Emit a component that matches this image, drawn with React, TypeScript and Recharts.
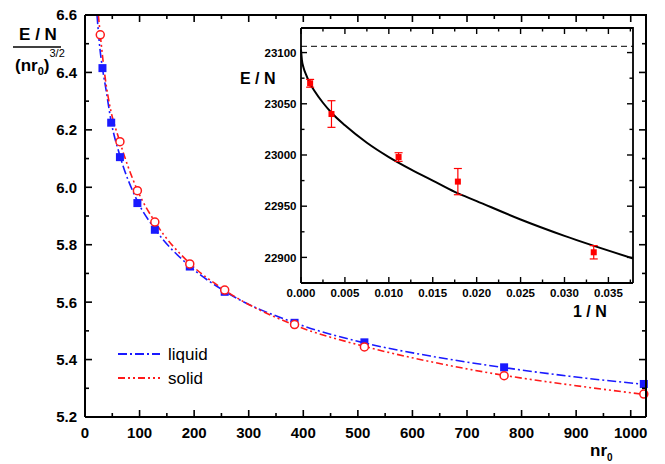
import { ComposedChart, Line, Scatter, XAxis, YAxis, ReferenceLine, ErrorBar } from 'recharts';

const FONT = '"Liberation Sans", Arial, Helvetica, sans-serif';
const BLUE = '#1a1aff';
const RED = '#ff1a1a';

// main panel: E/N/(nr0)^3/2 vs nr0
const liquidN = [32, 48, 64, 96, 128, 192, 256, 384, 512, 768, 1024];
const liquidE = [6.415, 6.225, 6.105, 5.945, 5.852, 5.724, 5.636, 5.528, 5.46, 5.373, 5.315];
const solidN = [28, 64, 96, 128, 192, 256, 384, 512, 768, 1024];
const solidE = [6.531, 6.159, 5.988, 5.879, 5.733, 5.642, 5.522, 5.444, 5.344, 5.28];

// fitted curves
const liquidFitN = [22, 27.5, 32, 38.5, 48, 64, 96, 128, 192, 256, 384, 512, 640, 768, 896, 1028];
const liquidFitE = [6.6, 6.48, 6.415, 6.34, 6.228, 6.11, 5.952, 5.855, 5.725, 5.638, 5.528, 5.458, 5.41, 5.372, 5.34, 5.313];
const solidFitN = [24.5, 28, 38.5, 44.5, 64, 96, 128, 192, 256, 384, 512, 640, 768, 896, 1028];
const solidFitE = [6.6, 6.531, 6.36, 6.293, 6.158, 5.99, 5.88, 5.735, 5.642, 5.52, 5.446, 5.39, 5.345, 5.31, 5.278];

const xTicks = [0, 50, 100, 150, 200, 250, 300, 350, 400, 450, 500, 550, 600, 650, 700, 750, 800, 850, 900, 950, 1000];
const yTicks = [5.2, 5.3, 5.4, 5.5, 5.6, 5.7, 5.8, 5.9, 6.0, 6.1, 6.2, 6.3, 6.4, 6.5, 6.6];
const yLabels = ['5.2', '5.4', '5.6', '5.8', '6.0', '6.2', '6.4', '6.6'];

// inset: E/N vs 1/N
const invN = [0.00104, 0.00347, 0.01111, 0.01786, 0.03333];
const energy = [23070, 23040, 22998, 22974, 22905];
const energyErr = [3.8, 13, 4.2, 12.8, 6.5];
const fitInvN = [0, 0.0001, 0.0003, 0.0006, 0.001, 0.0015, 0.0025, 0.0035, 0.005, 0.0075, 0.01, 0.0125, 0.015, 0.0175, 0.02, 0.025, 0.03, 0.0378];
const fitEnergy = [23103, 23093, 23085, 23078, 23070, 23063, 23051, 23041, 23029, 23012, 22998, 22986, 22975, 22964, 22955, 22937, 22921, 22899];
const bulkLimit = 23106;
const insetXTicks = [0, 0.0025, 0.005, 0.0075, 0.01, 0.0125, 0.015, 0.0175, 0.02, 0.0225, 0.025, 0.0275, 0.03, 0.0325, 0.035, 0.0375];
const insetYTicks = [22875, 22900, 22925, 22950, 22975, 23000, 23025, 23050, 23075, 23100];

const MAIN_X: [number, number] = [0, 1028];
const MAIN_Y: [number, number] = [5.2, 6.6];
const INSET_X: [number, number] = [0, 0.0378];
const INSET_Y: [number, number] = [22875, 23124];

// plot boxes (px) that the chart margins below produce
const MAIN_BOX = { left: 85, right: 646, top: 15, bottom: 417 };
const INSET_BOX = { left: 301, right: 633, top: 28, bottom: 283 };

const liquidData = liquidN.map((x, i) => ({ x, v: liquidE[i] }));
const solidData = solidN.map((x, i) => ({ x, v: solidE[i] }));
const liquidFit = liquidFitN.map((x, i) => ({ x, v: liquidFitE[i] }));
const solidFit = solidFitN.map((x, i) => ({ x, v: solidFitE[i] }));
const insetData = invN.map((x, i) => ({ x, v: energy[i], err: energyErr[i] }));
const insetFit = fitInvN.map((x, i) => ({ x, v: fitEnergy[i] }));

const near = (a: number, b: number) => Math.abs(a - b) < 1e-9;

const mainXLabel = (v: number) => (v % 100 === 0 ? String(v) : null);
const mainYLabel = (v: number) => yLabels.find((s) => near(parseFloat(s), v)) ?? null;
const insetXLabel = (v: number) => (Math.round(v * 10000) % 50 === 0 ? v.toFixed(3) : null);
const insetYLabel = (v: number) => (v % 50 === 0 ? String(v) : null);

const bottomLabel = (label: (v: number) => string | null, fs: number, gap: number) => (props: any) => {
  const lab = label(props.payload.value);
  if (!lab) return <g />;
  return (
    <text x={props.x} y={Number(props.y) + gap} dy="0.72em" textAnchor="middle" fontFamily={FONT} fontWeight="bold" fontSize={fs} fill="#000">
      {lab}
    </text>
  );
};

const leftLabel = (label: (v: number) => string | null, fs: number, gap: number) => (props: any) => {
  const lab = label(props.payload.value);
  if (!lab) return <g />;
  return (
    <text x={Number(props.x) - gap} y={props.y} dy="0.36em" textAnchor="end" fontFamily={FONT} fontWeight="bold" fontSize={fs} fill="#000">
      {lab}
    </text>
  );
};

// inward ticks on all four sides plus the top/right frame
function Frame(p: {
  box: { left: number; right: number; top: number; bottom: number };
  xd: [number, number]; yd: [number, number];
  xt: number[]; yt: number[];
  xMajor: (v: number) => boolean; yMajor: (v: number) => boolean;
  major: number; minor: number; sw: number; frameW: number;
}) {
  const { box, xd, yd } = p;
  const sx = (v: number) => box.left + ((v - xd[0]) / (xd[1] - xd[0])) * (box.right - box.left);
  const sy = (v: number) => box.bottom - ((v - yd[0]) / (yd[1] - yd[0])) * (box.bottom - box.top);
  return (
    <g stroke="#000" strokeWidth={p.sw}>
      {p.xt.map((v) => {
        const len = p.xMajor(v) ? p.major : p.minor;
        const x = sx(v);
        return (
          <g key={`x${v}`}>
            <line x1={x} x2={x} y1={box.bottom} y2={box.bottom - len} />
            <line x1={x} x2={x} y1={box.top} y2={box.top + len} />
          </g>
        );
      })}
      {p.yt.map((v) => {
        const len = p.yMajor(v) ? p.major : p.minor;
        const y = sy(v);
        return (
          <g key={`y${v}`}>
            <line x1={box.left} x2={box.left + len} y1={y} y2={y} />
            <line x1={box.right} x2={box.right - len} y1={y} y2={y} />
          </g>
        );
      })}
      <path d={`M${box.left},${box.top}H${box.right}V${box.bottom}`} fill="none" strokeWidth={p.frameW} />
    </g>
  );
}

const Square = (size: number, color: string) => (props: any) => {
  const { cx, cy } = props;
  return <rect x={cx - size / 2} y={cy - size / 2} width={size} height={size} fill={color} />;
};

const OpenCircle = (props: any) => {
  const { cx, cy } = props;
  return <circle cx={cx} cy={cy} r={4} fill="#fff" stroke={RED} strokeWidth={1.5} />;
};

const axisStyle = { stroke: '#000', strokeWidth: 2 };
const insetAxis = { stroke: '#000', strokeWidth: 1.8 };

export default function App() {
  return (
    <div style={{ position: 'absolute', left: 0, top: 0, width: 665, height: 464 }}>
      <ComposedChart width={665} height={464} margin={{ top: 15, right: 19, bottom: 0, left: 0 }}>
        <XAxis
          xAxisId="b"
          dataKey="x"
          type="number"
          domain={MAIN_X}
          ticks={xTicks}
          interval={0}
          height={47}
          tickSize={0}
          tickMargin={0}
          tickLine={false}
          axisLine={axisStyle}
          tick={bottomLabel(mainXLabel, 15, 10)}
        />
        <YAxis
          yAxisId="l"
          type="number"
          domain={MAIN_Y}
          ticks={yTicks}
          interval={0}
          width={85}
          tickSize={0}
          tickMargin={0}
          tickLine={false}
          axisLine={axisStyle}
          tick={leftLabel(mainYLabel, 15, 8)}
        />
        <Line
          xAxisId="b"
          yAxisId="l"
          data={liquidFit}
          dataKey="v"
          type="monotone"
          stroke={BLUE}
          strokeWidth={1.6}
          strokeDasharray="9 3 2 3"
          dot={false}
          isAnimationActive={false}
        />
        <Line
          xAxisId="b"
          yAxisId="l"
          data={solidFit}
          dataKey="v"
          type="monotone"
          stroke={RED}
          strokeWidth={1.6}
          strokeDasharray="7 3 2 3 2 3"
          dot={false}
          isAnimationActive={false}
        />
        <Scatter xAxisId="b" yAxisId="l" data={liquidData} dataKey="v" shape={Square(8, BLUE)} isAnimationActive={false} />
        <Scatter xAxisId="b" yAxisId="l" data={solidData} dataKey="v" shape={OpenCircle} isAnimationActive={false} />
      </ComposedChart>

      <div style={{ position: 'absolute', left: 240, top: 20 }}>
        <ComposedChart width={400} height={305} margin={{ top: 8, right: 7, bottom: 0, left: 0 }}>
          <XAxis
            xAxisId="b"
            dataKey="x"
            type="number"
            domain={INSET_X}
            ticks={insetXTicks}
            interval={0}
            height={42}
            tickSize={0}
            tickMargin={0}
            tickLine={false}
            axisLine={insetAxis}
            tick={bottomLabel(insetXLabel, 11.5, 6)}
          />
          <YAxis
            yAxisId="l"
            type="number"
            domain={INSET_Y}
            ticks={insetYTicks}
            interval={0}
            width={61}
            tickSize={0}
            tickMargin={0}
            tickLine={false}
            axisLine={insetAxis}
            tick={leftLabel(insetYLabel, 11.5, 4.5)}
          />
          <ReferenceLine xAxisId="b" yAxisId="l" y={bulkLimit} stroke="#333" strokeWidth={1.2} strokeDasharray="6 4" />
          <Line
            xAxisId="b"
            yAxisId="l"
            data={insetFit}
            dataKey="v"
            type="monotone"
            stroke="#000"
            strokeWidth={2}
            dot={false}
            isAnimationActive={false}
          />
          <Scatter xAxisId="b" yAxisId="l" data={insetData} dataKey="v" shape={Square(6, '#ff0000')} isAnimationActive={false}>
            <ErrorBar dataKey="err" direction="y" width={4} stroke="#ff0000" strokeWidth={1.2} />
          </Scatter>
        </ComposedChart>
      </div>

      <svg width={665} height={464} style={{ position: 'absolute', left: 0, top: 0, pointerEvents: 'none' }} fontFamily={FONT}>
        <Frame box={MAIN_BOX} xd={MAIN_X} yd={MAIN_Y} xt={xTicks} yt={yTicks}
          xMajor={(v) => v % 100 === 0} yMajor={(v) => mainYLabel(v) !== null}
          major={7} minor={4} sw={1.6} frameW={2} />
        <Frame box={INSET_BOX} xd={INSET_X} yd={INSET_Y} xt={insetXTicks} yt={insetYTicks}
          xMajor={(v) => insetXLabel(v) !== null} yMajor={(v) => v % 50 === 0}
          major={6} minor={3.5} sw={1.4} frameW={1.8} />
        {/* main y title */}
        <text x={38} y={40} textAnchor="middle" fontWeight="bold" fontSize={17}>E / N</text>
        <line x1={13} x2={61} y1={47} y2={47} stroke="#000" strokeWidth={1.5} />
        <text x={15} y={71} fontWeight="bold" fontSize={17}>
          (nr<tspan fontSize={11} dy={4}>0</tspan><tspan dy={-4}>)</tspan>
          <tspan fontSize={11} fontWeight="normal" dy={-14}>3/2</tspan>
        </text>
        {/* main x title */}
        <text x={590} y={456} fontWeight="bold" fontSize={17}>
          nr<tspan fontSize={10} dy={5}>0</tspan>
        </text>
        {/* inset titles */}
        <text x={240} y={84} fontWeight="bold" fontSize={16}>E / N</text>
        <text x={573} y={317} fontWeight="bold" fontSize={16}>1 / N</text>
        {/* legend */}
        <line x1={118} x2={160} y1={354} y2={354} stroke={BLUE} strokeWidth={1.8} strokeDasharray="9 3 2 3" />
        <text x={168} y={354} dy="0.35em" fontSize={17}>liquid</text>
        <line x1={118} x2={160} y1={378} y2={378} stroke={RED} strokeWidth={1.8} strokeDasharray="7 3 2 3 2 3" />
        <text x={168} y={378} dy="0.35em" fontSize={17}>solid</text>
      </svg>
    </div>
  );
}
